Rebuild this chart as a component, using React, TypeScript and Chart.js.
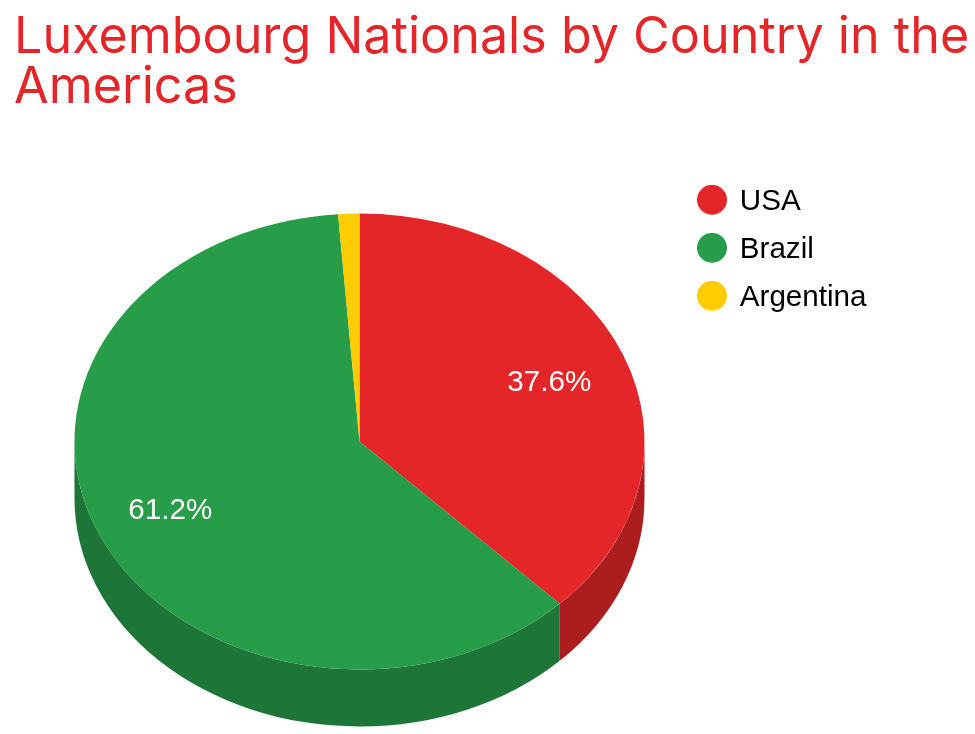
import React, { useEffect, useRef } from "react";
import { Chart, registerables } from "chart.js";

Chart.register(...registerables);

const categories = ["USA", "Brazil", "Argentina"];
const shares = [37.6, 61.2, 1.2];
const topColors = ["#E52629", "#279C49", "#FFCC00"];
const wallColors = ["#AC1D1F", "#1D7537", "#BF9900"];
const titleLines = ["Luxembourg Nationals by Country in the", "Americas"];

const TILT = 0.8;
const DEPTH_RATIO = 0.2;
const LABEL_RADIUS = 0.72;
const MIN_LABEL_SHARE = 5;
const TAU = Math.PI * 2;

// A legend dot whose circle sits 2px above the centre of its image, so that it
// lines up with the optical centre of the label text.
function legendDot(color: string) {
  const c = document.createElement("canvas");
  c.width = 30;
  c.height = 34;
  const g = c.getContext("2d") as CanvasRenderingContext2D;
  g.fillStyle = color;
  g.beginPath();
  g.arc(15, 15, 15, 0, TAU);
  g.fill();
  return c;
}

const pie3d = {
  id: "pie3d",
  afterLayout(chart: any) {
    const a = chart.chartArea;
    a.left = 74.5; a.right = 644.5; a.top = 156.5; a.bottom = 726.5;
    a.width = 570; a.height = 570;
    const lg = chart.legend;
    const p = lg.options.labels.padding;
    lg.left = 699 - p; lg.right = 975;
    lg.top = 187 - p; lg.bottom = lg.top + lg.height;
    chart.titleBlock.left = 14;
    chart.titleBlock.right = 975;
    chart.titleBlock.top = 0;
  },
  beforeDatasetsDraw(chart: any) {
    const { ctx } = chart;
    const meta = chart.getDatasetMeta(0);
    meta.data.forEach((el: any, i: number) => {
      const { x, y, startAngle, endAngle, outerRadius: r } = el.getProps(
        ["x", "y", "startAngle", "endAngle", "outerRadius"], true);
      // normalise the angles so that the front half of the pie is 0..PI
      for (const shift of [0, TAU]) {
        const from = Math.max(startAngle + shift, 0);
        const to = Math.min(endAngle + shift, Math.PI);
        if (to <= from) continue;
        const depth = r * DEPTH_RATIO;
        ctx.save();
        ctx.fillStyle = wallColors[i];
        ctx.beginPath();
        ctx.ellipse(x, y, r, r * TILT, 0, from, to);
        ctx.ellipse(x, y + depth, r, r * TILT, 0, to, from, true);
        ctx.closePath();
        ctx.fill();
        ctx.restore();
      }
    });
    const first = meta.data[0];
    ctx.save();
    ctx.translate(first.x, first.y);
    ctx.scale(1, TILT);
    ctx.translate(-first.x, -first.y);
  },
  afterDatasetsDraw(chart: any) {
    const { ctx } = chart;
    ctx.restore();
    const meta = chart.getDatasetMeta(0);
    const values = chart.data.datasets[0].data as number[];
    const total = values.reduce((s, v) => s + v, 0);
    const nudgeX = [0, -2.5, 0];
    const nudgeY = [4, 1, 0];
    ctx.save();
    ctx.fillStyle = "#ffffff";
    ctx.font = '29.6px "Liberation Sans"';
    ctx.textAlign = "center";
    ctx.textBaseline = "middle";
    meta.data.forEach((el: any, i: number) => {
      const share = (values[i] / total) * 100;
      if (share < MIN_LABEL_SHARE) return;
      const { x, y, startAngle, endAngle, outerRadius: r } = el.getProps(
        ["x", "y", "startAngle", "endAngle", "outerRadius"], true);
      const mid = (startAngle + endAngle) / 2;
      ctx.fillText(
        share.toFixed(1) + "%",
        x + nudgeX[i] + Math.cos(mid) * r * LABEL_RADIUS,
        y + nudgeY[i] + Math.sin(mid) * r * TILT * LABEL_RADIUS
      );
    });
    ctx.restore();
  },
};

export default function App() {
  const ref = useRef<HTMLCanvasElement>(null);
  useEffect(() => {
    document.body.style.margin = "0";
    document.body.style.background = "#ffffff";
    const chart = new Chart(ref.current as HTMLCanvasElement, {
      type: "pie",
      data: {
        labels: categories,
        datasets: [{ data: shares, backgroundColor: topColors, borderWidth: 0 }],
      },
      options: {
        responsive: false,
        animation: false,
        devicePixelRatio: 1,
        plugins: {
          tooltip: { enabled: false },
          title: {
            display: true,
            text: titleLines,
            align: "start",
            color: "#E52629",
            padding: { top: 12.5, bottom: 0 },
            font: { family: "Inter", size: 50.25, weight: "normal", lineHeight: 50 / 50.25 },
          },
          legend: {
            position: "right",
            align: "start",
            labels: {
              color: "#000000",
              usePointStyle: true,
              boxWidth: 26,
              boxHeight: 21.2,
              padding: 18.4,
              font: { family: "Liberation Sans", size: 29.6 },
              generateLabels: (c: any) =>
                c.data.labels.map((text: string, i: number) => ({
                  text,
                  fillStyle: topColors[i],
                  strokeStyle: topColors[i],
                  lineWidth: 0,
                  pointStyle: legendDot(topColors[i]),
                  hidden: false,
                  index: i,
                })),
            },
          },
        },
      } as any,
      plugins: [pie3d],
    });
    return () => chart.destroy();
  }, []);
  return <canvas ref={ref} width={975} height={734} style={{ display: "block" }} />;
}
